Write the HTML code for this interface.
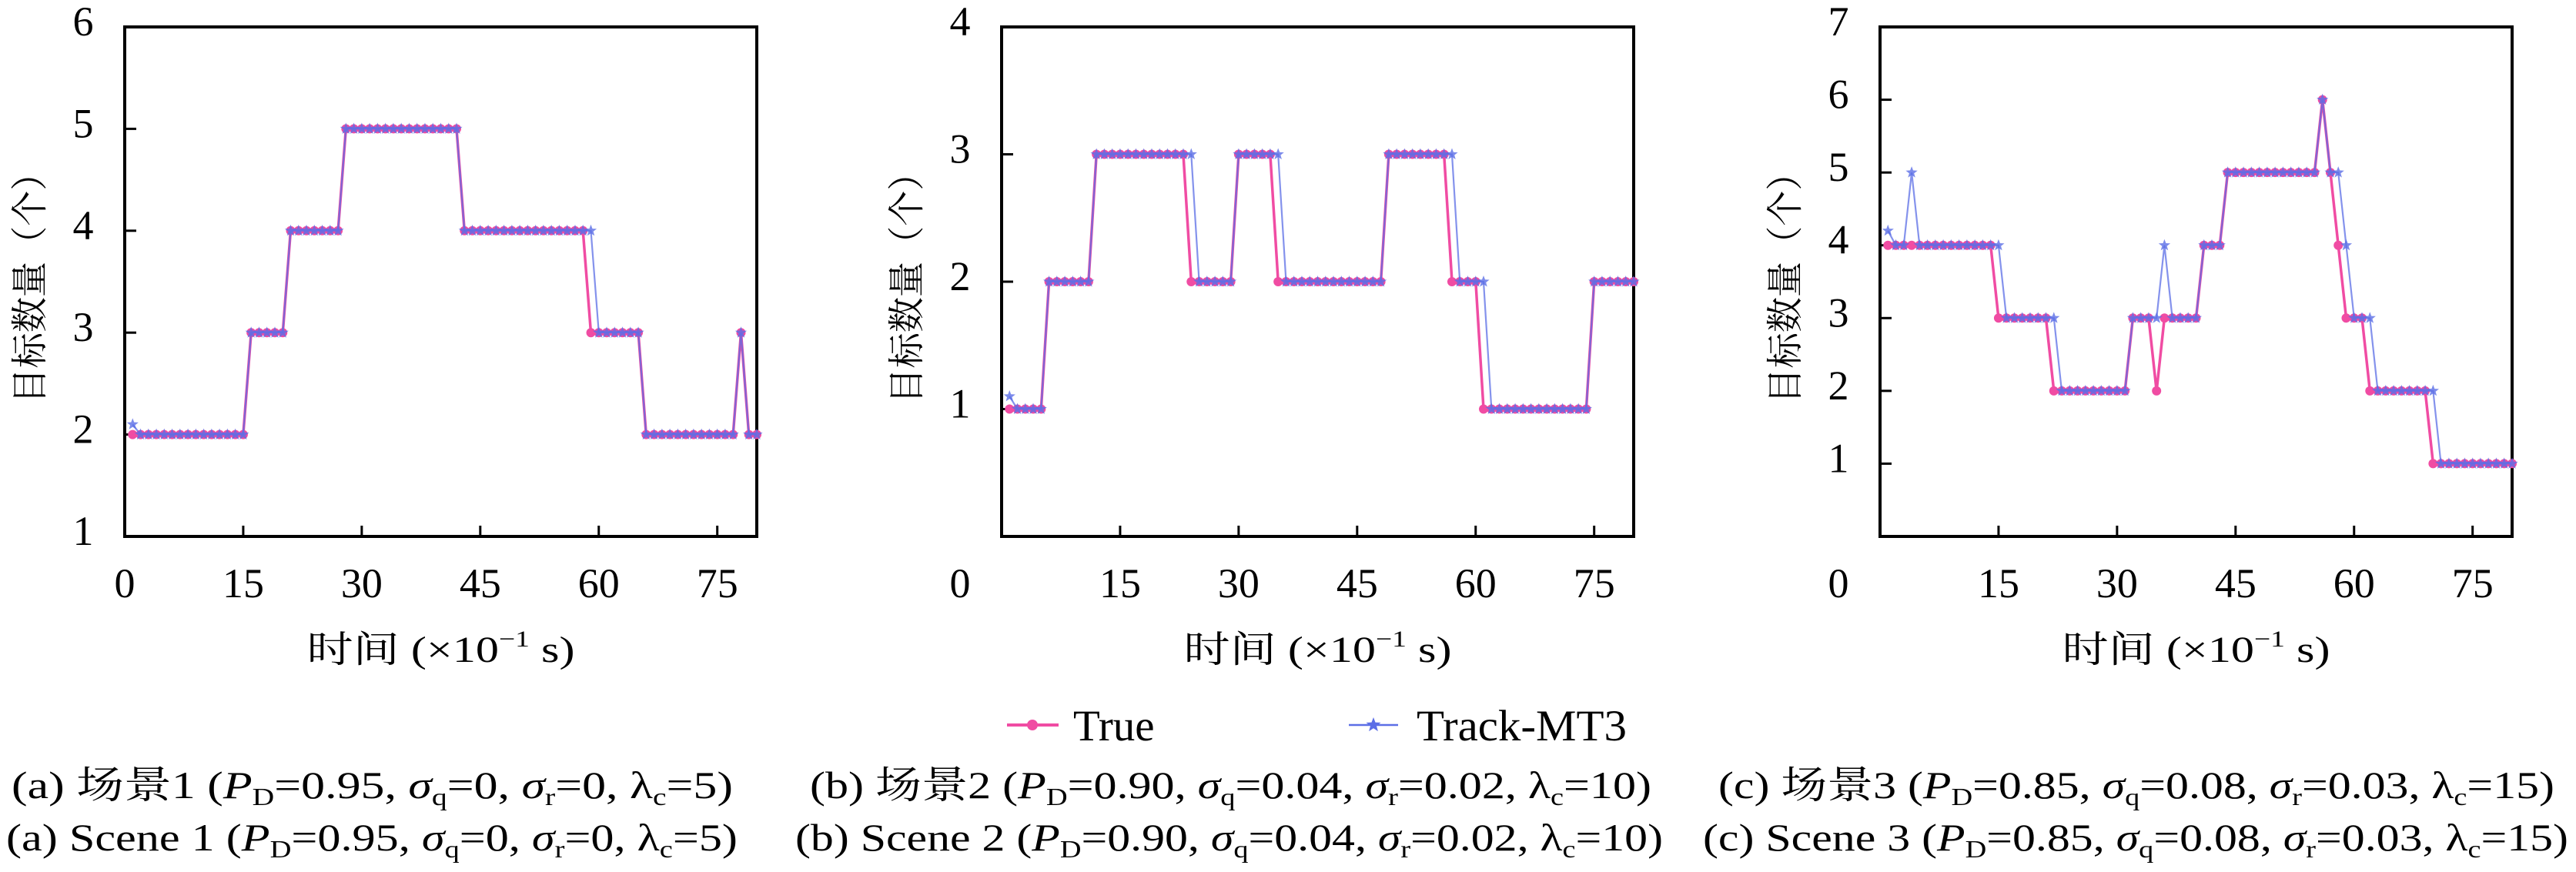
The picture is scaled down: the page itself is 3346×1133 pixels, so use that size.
<!DOCTYPE html>
<html><head><meta charset="utf-8"><style>
html,body{margin:0;padding:0;background:#fff;}
svg{display:block;}
text{font-family:"Liberation Serif","Noto Serif CJK SC","Noto Sans CJK SC",serif;fill:#000;}
.cjk{font-family:"Liberation Serif","Noto Serif CJK SC","Noto Sans CJK SC",serif;}
</style></head><body>
<svg id="chart" width="3346" height="1133" viewBox="0 0 3346 1133" xmlns="http://www.w3.org/2000/svg">
<g id="panels"></g>
<g id="legend">
  <g>
    <line x1="1308" y1="942" x2="1375" y2="942" stroke="#f04ca3" stroke-width="4"/>
    <circle cx="1341" cy="942" r="7" fill="#f04ca3"/>
    <text x="1394" y="962" font-size="57">True</text>
  </g>
  <g>
    <line x1="1752" y1="942" x2="1816" y2="942" stroke="#5b6ee6" stroke-width="2.5"/>
    <polygon id="legstar" fill="#5b6ee6"/>
    <text x="1840" y="962" font-size="57" textLength="273" lengthAdjust="spacingAndGlyphs">Track-MT3</text>
  </g>
</g>
<g id="captions" font-size="50">
  <text x="15" y="1037" textLength="937" lengthAdjust="spacingAndGlyphs">(a) 场景1 (<tspan font-style="italic">P</tspan><tspan font-size="32" dy="9">D</tspan><tspan dy="-9">=0.95, </tspan><tspan font-style="italic">σ</tspan><tspan font-size="32" dy="9">q</tspan><tspan dy="-9">=0, </tspan><tspan font-style="italic">σ</tspan><tspan font-size="32" dy="9">r</tspan><tspan dy="-9">=0, λ</tspan><tspan font-size="32" dy="9">c</tspan><tspan dy="-9">=5)</tspan></text>
  <text x="8" y="1105" textLength="950" lengthAdjust="spacingAndGlyphs">(a) Scene 1 (<tspan font-style="italic">P</tspan><tspan font-size="32" dy="9">D</tspan><tspan dy="-9">=0.95, </tspan><tspan font-style="italic">σ</tspan><tspan font-size="32" dy="9">q</tspan><tspan dy="-9">=0, </tspan><tspan font-style="italic">σ</tspan><tspan font-size="32" dy="9">r</tspan><tspan dy="-9">=0, λ</tspan><tspan font-size="32" dy="9">c</tspan><tspan dy="-9">=5)</tspan></text>
  <text x="1052" y="1037" textLength="1093" lengthAdjust="spacingAndGlyphs">(b) 场景2 (<tspan font-style="italic">P</tspan><tspan font-size="32" dy="9">D</tspan><tspan dy="-9">=0.90, </tspan><tspan font-style="italic">σ</tspan><tspan font-size="32" dy="9">q</tspan><tspan dy="-9">=0.04, </tspan><tspan font-style="italic">σ</tspan><tspan font-size="32" dy="9">r</tspan><tspan dy="-9">=0.02, λ</tspan><tspan font-size="32" dy="9">c</tspan><tspan dy="-9">=10)</tspan></text>
  <text x="1033" y="1105" textLength="1127" lengthAdjust="spacingAndGlyphs">(b) Scene 2 (<tspan font-style="italic">P</tspan><tspan font-size="32" dy="9">D</tspan><tspan dy="-9">=0.90, </tspan><tspan font-style="italic">σ</tspan><tspan font-size="32" dy="9">q</tspan><tspan dy="-9">=0.04, </tspan><tspan font-style="italic">σ</tspan><tspan font-size="32" dy="9">r</tspan><tspan dy="-9">=0.02, λ</tspan><tspan font-size="32" dy="9">c</tspan><tspan dy="-9">=10)</tspan></text>
  <text x="2232" y="1037" textLength="1086" lengthAdjust="spacingAndGlyphs">(c) 场景3 (<tspan font-style="italic">P</tspan><tspan font-size="32" dy="9">D</tspan><tspan dy="-9">=0.85, </tspan><tspan font-style="italic">σ</tspan><tspan font-size="32" dy="9">q</tspan><tspan dy="-9">=0.08, </tspan><tspan font-style="italic">σ</tspan><tspan font-size="32" dy="9">r</tspan><tspan dy="-9">=0.03, λ</tspan><tspan font-size="32" dy="9">c</tspan><tspan dy="-9">=15)</tspan></text>
  <text x="2212" y="1105" textLength="1124" lengthAdjust="spacingAndGlyphs">(c) Scene 3 (<tspan font-style="italic">P</tspan><tspan font-size="32" dy="9">D</tspan><tspan dy="-9">=0.85, </tspan><tspan font-style="italic">σ</tspan><tspan font-size="32" dy="9">q</tspan><tspan dy="-9">=0.08, </tspan><tspan font-style="italic">σ</tspan><tspan font-size="32" dy="9">r</tspan><tspan dy="-9">=0.03, λ</tspan><tspan font-size="32" dy="9">c</tspan><tspan dy="-9">=15)</tspan></text>
</g>
</svg>
<script>
const xTicks = [15, 30, 45, 60, 75];
const xTickLabels = ["15", "30", "45", "60", "75"];
const s1True  = [2,2,2,2,2,2,2,2,2,2,2,2,2,2,2, 3,3,3,3,3, 4,4,4,4,4,4,4, 5,5,5,5,5,5,5,5,5,5,5,5,5,5,5, 4,4,4,4,4,4,4,4,4,4,4,4,4,4,4,4, 3,3,3,3,3,3,3, 2,2,2,2,2,2,2,2,2,2,2,2, 3, 2,2];
const s1Track = [2.1,2,2,2,2,2,2,2,2,2,2,2,2,2,2, 3,3,3,3,3, 4,4,4,4,4,4,4, 5,5,5,5,5,5,5,5,5,5,5,5,5,5,5, 4,4,4,4,4,4,4,4,4,4,4,4,4,4,4,4, 4,3,3,3,3,3,3, 2,2,2,2,2,2,2,2,2,2,2,2, 3, 2,2];
const s2True  = [1,1,1,1,1, 2,2,2,2,2,2, 3,3,3,3,3,3,3,3,3,3,3,3, 2,2,2,2,2,2, 3,3,3,3,3, 2,2,2,2,2,2,2,2,2,2,2,2,2,2, 3,3,3,3,3,3,3,3, 2,2,2,2, 1,1,1,1,1,1,1,1,1,1,1,1,1,1, 2,2,2,2,2,2];
const s2Track = [1.1,1,1,1,1, 2,2,2,2,2,2, 3,3,3,3,3,3,3,3,3,3,3,3, 3,2,2,2,2,2, 3,3,3,3,3, 3,2,2,2,2,2,2,2,2,2,2,2,2,2, 3,3,3,3,3,3,3,3, 3,2,2,2, 2,1,1,1,1,1,1,1,1,1,1,1,1,1, 2,2,2,2,2,2];
const s3True  = [4,4,4,4,4,4,4,4,4,4,4,4,4,4, 3,3,3,3,3,3,3, 2,2,2,2,2,2,2,2,2,2, 3,3,3, 2, 3,3,3,3,3, 4,4,4, 5,5,5,5,5,5,5,5,5,5,5,5, 6, 5, 4, 3,3,3, 2,2,2,2,2,2,2,2, 1,1,1,1,1,1,1,1,1,1,1];
const s3Track = [4.2,4,4,5,4,4,4,4,4,4,4,4,4,4, 4,3,3,3,3,3,3, 3,2,2,2,2,2,2,2,2,2, 3,3,3, 3, 4,3,3,3,3, 4,4,4, 5,5,5,5,5,5,5,5,5,5,5,5, 6, 5, 5, 4,3,3, 3,2,2,2,2,2,2,2, 2,1,1,1,1,1,1,1,1,1,1];

const NS = "http://www.w3.org/2000/svg";
const TOP = 35, BOT = 697, W = 821;
const panels = [
  {id:"a", left:162, ymin:1, ymax:6, yTicks:[2,3,4,5], yLabels:["1","2","3","4","5","6"], yLabelVals:[1,2,3,4,5,6], labelX:108, titleX:38, zeroX:162, truth:s1True, track:s1Track},
  {id:"b", left:1301, ymin:0, ymax:4, yTicks:[1,2,3], yLabels:["1","2","3","4"], yLabelVals:[1,2,3,4], labelX:1247, titleX:1177, zeroX:1247, truth:s2True, track:s2Track},
  {id:"c", left:2442, ymin:0, ymax:7, yTicks:[1,2,3,4,5,6], yLabels:["1","2","3","4","5","6","7"], yLabelVals:[1,2,3,4,5,6,7], labelX:2388, titleX:2318, zeroX:2388, truth:s3True, track:s3Track}
];
function el(tag, attrs, parent){ const e=document.createElementNS(NS,tag); for(const k in attrs) e.setAttribute(k, attrs[k]); if(parent) parent.appendChild(e); return e; }
function starPts(cx, cy, R){ const r=R*0.42; let p=[]; for(let i=0;i<10;i++){ const a=-Math.PI/2+i*Math.PI/5; const rr=i%2?r:R; p.push((cx+rr*Math.cos(a)).toFixed(1)+","+(cy+rr*Math.sin(a)).toFixed(1)); } return p.join(" "); }
document.getElementById('legstar').setAttribute('points', starPts(1784, 942, 10));

const root = document.getElementById('panels');
panels.forEach(p => {
  const sx = t => p.left + t / 80 * W;
  const sy = v => BOT - (v - p.ymin) / (p.ymax - p.ymin) * (BOT - TOP);
  const g = el('g', {}, root);
  
  
  const frame = el('rect', {x:p.left, y:TOP, width:W, height:BOT-TOP, fill:"none", stroke:"#000", "stroke-width":4}, g);
  
  
  xTicks.forEach((t, i) => {
    const tk = el('line', {x1:sx(t), x2:sx(t), y1:BOT, y2:BOT-14, stroke:"#000", "stroke-width":3}, g);
    
    
    const lb = el('text', {x:sx(t), y:776, "font-size":54, "text-anchor":"middle"}, g);
    
    
    lb.textContent = xTickLabels[i];
  });
  const z = el('text', {x:p.zeroX, y:776, "font-size":54, "text-anchor":"middle"}, g);
  
  
  z.textContent = "0";
  p.yTicks.forEach(v => {
    const tk = el('line', {x1:p.left, x2:p.left+15, y1:sy(v), y2:sy(v), stroke:"#000", "stroke-width":3}, g);
    
    
  });
  p.yLabelVals.forEach((v, i) => {
    const lb = el('text', {x:p.labelX, y:sy(v)+11, "font-size":54, "text-anchor":"middle"}, g);
    
    
    lb.textContent = p.yLabels[i];
  });
  const yt = el('text', {x:0, y:0, "font-size":48, "text-anchor":"middle", transform:`translate(${p.titleX+17},363) rotate(-90)`, textLength:323, lengthAdjust:"spacingAndGlyphs"}, g);
  
  
  yt.textContent = "目标数量（个）";
  const xt = el('text', {x:p.left+W/2, y:860, "font-size":48, "text-anchor":"middle", textLength:348, lengthAdjust:"spacingAndGlyphs"}, g);
  
  
  xt.innerHTML = '时间 (×10<tspan font-size="30" dy="-20">−1</tspan><tspan dy="20"> s)</tspan>';
  // true series
  const tp = p.truth.map((v,i)=>sx(i+1).toFixed(1)+","+sy(v).toFixed(1)).join(" ");
  const tl = el('polyline', {points:tp, fill:"none", stroke:"#f04ca3", "stroke-width":3.5}, g);
  
  
  p.truth.forEach((v,i) => {
    const c = el('circle', {cx:sx(i+1), cy:sy(v), r:6, fill:"#f04ca3"}, g);
    
    
  });
  const kp = p.track.map((v,i)=>sx(i+1).toFixed(1)+","+sy(v).toFixed(1)).join(" ");
  const kl = el('polyline', {points:kp, fill:"none", stroke:"#5b6ee6", "stroke-width":2.2, "stroke-opacity":0.75}, g);
  
  
  p.track.forEach((v,i) => {
    const s = el('polygon', {points:starPts(sx(i+1), sy(v), 8), fill:"#5b6ee6", "fill-opacity":0.8}, g);
    
    
  });
});
</script>
</body></html>
